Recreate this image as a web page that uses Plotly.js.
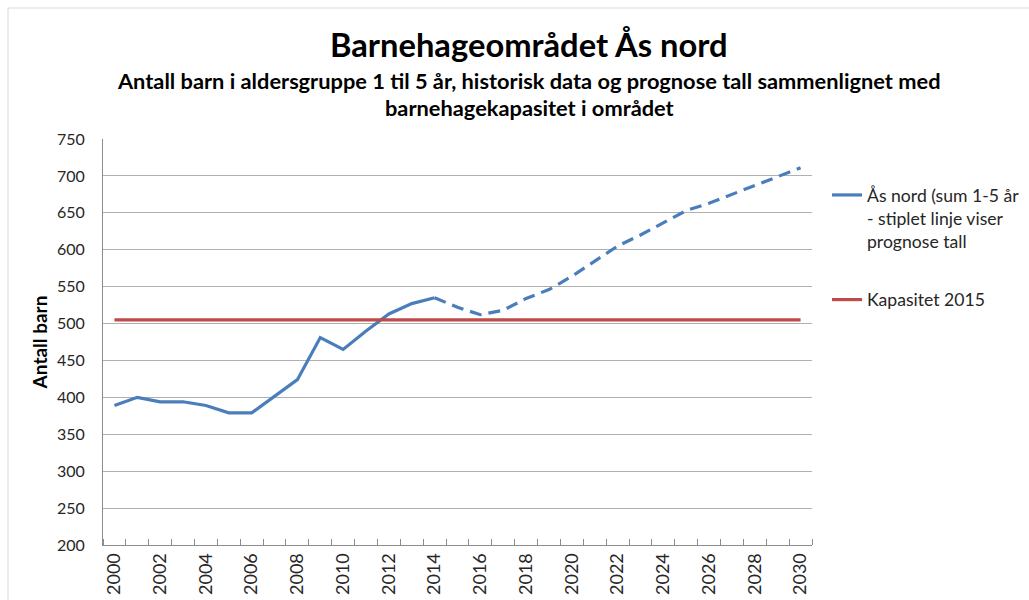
<!DOCTYPE html>
<html>
<head>
<meta charset="utf-8">
<script src="https://cdn.plot.ly/plotly-3.0.1.min.js"></script>
<style>html,body{margin:0;padding:0;background:#fff;}#chart{width:1029px;height:600px;}</style>
</head>
<body>
<div id="chart"></div>
<script>
// Historical data (solid line)
const histYears = [2000,2001,2002,2003,2004,2005,2006,2007,2008,2009,2010,2011,2012,2013,2014];
const histValues = [389,400,394,394,389,379,379,401,424,481,465,490,513,527,535];
// Forecast data (dashed line)
const progYears = [2014,2015,2016,2017,2018,2019,2020,2021,2022,2023,2024,2025,2026,2027,2028,2029,2030];
const progValues = [535,522,512,518,534,546,564,584,605,620,637,653,663,675,687,699,711];
// Capacity 2015
const capYears = [2000,2030];
const capValues = [505,505];

const xTickVals = [2000,2002,2004,2006,2008,2010,2012,2014,2016,2018,2020,2022,2024,2026,2028,2030];
const xTickText = xTickVals.map(String);
const yTickVals = [200,250,300,350,400,450,500,550,600,650,700,750];

const titleText = "Barnehageområdet Ås nord";
const subtitleLine1 = "Antall barn i aldersgruppe 1 til 5 år, historisk data og prognose tall sammenlignet med";
const subtitleLine2 = "barnehagekapasitet i området";
const yTitle = "Antall barn";
const seriesName = "Ås nord (sum 1-5 år<br>- stiplet linje viser<br>prognose tall";
const capName = "Kapasitet 2015";

const blue = "#4A7EBB";
const red = "#BE4B48";
const FONT = "Lato, 'Open Sans', sans-serif";

const traces = [
  {x: histYears, y: histValues, type: "scatter", mode: "lines", name: seriesName,
   legendgroup: "a", line: {color: blue, width: 3.2}, hoverinfo: "x+y"},
  {x: progYears, y: progValues, type: "scatter", mode: "lines", name: "prognose",
   legendgroup: "a", showlegend: false, line: {color: blue, width: 3.2, dash: "12px,7px"}, hoverinfo: "x+y"},
  {x: capYears, y: capValues, type: "scatter", mode: "lines", name: capName,
   legendgroup: "b", line: {color: red, width: 3.2}, hoverinfo: "x+y"}
];

const L = 103, R = 812, T = 139, B = 545;
const W = R - L, H = B - T;
const px = v => (v - L) / W;
const py = v => (B - v) / H;

const layout = {
  width: 1029, height: 600,
  margin: {l: L, r: 1029 - R, t: T, b: 600 - B, pad: 0, autoexpand: false},
  paper_bgcolor: "#ffffff", plot_bgcolor: "#ffffff",
  font: {family: FONT, color: "#262626"},
  showlegend: true,
  legend: {x: px(827), y: py(177), xanchor: "left", yanchor: "top", valign: "top",
    font: {family: FONT, size: 17.6, color: "#262626"}, traceorder: "grouped",
    tracegroupgap: 33, bgcolor: "rgba(0,0,0,0)"},
  xaxis: {type: "linear", range: [1999.5, 2030.5], tickmode: "array", tickvals: xTickVals,
    ticktext: xTickText, tickangle: -90, ticks: "", showgrid: false, zeroline: false,
    showline: true, linecolor: "#8c8c8c", linewidth: 1,
    tickfont: {family: FONT, size: 18, color: "#262626"},
    minor: {tick0: 1999.5, dtick: 1, ticks: "inside", ticklen: 6, tickcolor: "#8c8c8c", tickwidth: 1, showgrid: false},
    automargin: false, fixedrange: true},
  yaxis: {range: [200, 750], tickmode: "array", tickvals: yTickVals, ticks: "",
    ticklabelstandoff: 14,
    showgrid: true, gridcolor: "#b0b0b0", gridwidth: 1, zeroline: false,
    showline: true, linecolor: "#8c8c8c", linewidth: 1,
    tickfont: {family: FONT, size: 16, color: "#262626"},
    title: {text: "<b>" + yTitle + "</b>", font: {family: FONT, size: 19, color: "#000"}, standoff: 4},
    automargin: false, fixedrange: true},
  annotations: [
    {text: "<b>" + titleText + "</b>", xref: "paper", yref: "paper", x: px(528), y: py(45),
     xanchor: "center", yanchor: "middle", showarrow: false, font: {family: FONT, size: 32.7, color: "#000"}},
    {text: "<b>" + subtitleLine1 + "</b>", xref: "paper", yref: "paper", x: px(529), y: py(80),
     xanchor: "center", yanchor: "middle", showarrow: false, font: {family: FONT, size: 21.8, color: "#000"}},
    {text: "<b>" + subtitleLine2 + "</b>", xref: "paper", yref: "paper", x: px(529), y: py(107),
     xanchor: "center", yanchor: "middle", showarrow: false, font: {family: FONT, size: 21.8, color: "#000"}}
  ],
  shapes: [
    {type: "rect", xref: "paper", yref: "paper", x0: px(8), x1: px(1100), y0: py(700), y1: py(8),
     line: {color: "#d9d9d9", width: 1}, fillcolor: "rgba(0,0,0,0)", layer: "below"}
  ]
};

Plotly.newPlot("chart", traces, layout, {displayModeBar: false, staticPlot: true});
</script>
</body>
</html>
